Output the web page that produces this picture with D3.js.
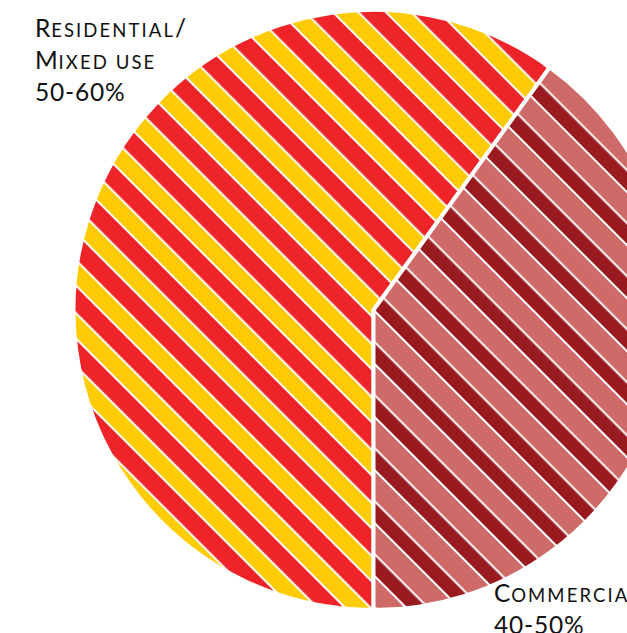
<!DOCTYPE html>
<html>
<head>
<meta charset="utf-8">
<script src="https://cdn.jsdelivr.net/npm/d3@7"></script>
<style>
  html, body { margin: 0; padding: 0; background: #fff; overflow: hidden; }
  svg { display: block; }
</style>
</head>
<body>
<svg id="chart" width="627" height="633"></svg>
<script>
// ---- data ----
const categories = ["Residential/Mixed use", "Commercial"];
const values = [60, 40];
const labelLines = [
  ["Residential/", "Mixed use", "50-60%"],
  ["Commercial", "40-50%"]
];

// ---- style ----
const W = 627, H = 633;
const cx = 373.5, cy = 310, R = 300;
const stripePeriod = 37.5;
const stripeStyles = [
  { a: "#FFCB05", b: "#EE2428", off: 24.5, aw: 18 },   // residential: yellow / red
  { a: "#991B1F", b: "#CE6A68", off: 30.2, aw: 15.5 }  // commercial: dark red / pink
];
const labelPos = [
  { x: 35, y: 37 },
  { x: 494, y: 602 }
];
const lineH = 32.2;
const bigSize = 24.5, smallSize = 18.5;

const svg = d3.select("#chart");
const defs = svg.append("defs");

stripeStyles.forEach((s, i) => {
  const p = defs.append("pattern")
    .attr("id", "stripe" + i)
    .attr("patternUnits", "userSpaceOnUse")
    .attr("x", s.off).attr("y", 0)
    .attr("width", stripePeriod).attr("height", 20)
    .attr("patternTransform", `translate(${cx},${cy}) rotate(-45)`);
  p.append("rect").attr("x", 0).attr("y", 0).attr("width", s.aw).attr("height", 20).attr("fill", s.a);
  p.append("rect").attr("x", s.aw).attr("y", 0).attr("width", stripePeriod - s.aw).attr("height", 20).attr("fill", s.b);
  p.append("rect").attr("x", -1).attr("y", 0).attr("width", 2).attr("height", 20).attr("fill", "#fff");
  p.append("rect").attr("x", stripePeriod - 1).attr("y", 0).attr("width", 2).attr("height", 20).attr("fill", "#fff");
  p.append("rect").attr("x", s.aw - 1).attr("y", 0).attr("width", 2).attr("height", 20).attr("fill", "#fff");
});

const pie = d3.pie().sort(null).startAngle(Math.PI).endAngle(3 * Math.PI);
const arc = d3.arc().innerRadius(0).outerRadius(R);
const arcs = pie(values);

const g = svg.append("g").attr("transform", `translate(${cx},${cy})`);
g.selectAll("path.slice")
  .data(arcs)
  .join("path")
  .attr("class", "slice")
  .attr("d", arc)
  .attr("fill", (d, i) => `url(#stripe${i})`)
  .attr("stroke", "#fff")
  .attr("stroke-width", 4)
  .attr("stroke-linejoin", "miter");

// small-caps labels
function addSmallCaps(textSel, str) {
  const parts = [];
  for (const ch of str) {
    const isLower = ch !== ch.toUpperCase();
    const small = isLower || ch === " ";
    const size = small ? smallSize : bigSize;
    const c = ch.toUpperCase();
    if (parts.length && parts[parts.length - 1].size === size) parts[parts.length - 1].t += c;
    else parts.push({ t: c, size, small });
  }
  parts.forEach(pt => textSel.append("tspan")
    .attr("font-size", pt.size)
    .attr("letter-spacing", pt.small ? 2.1 : 0.8)
    .text(pt.t));
}

labelLines.forEach((lines, i) => {
  const t = svg.append("text")
    .attr("class", "label")
    .attr("font-family", "Lato, 'Open Sans', sans-serif")
    .attr("fill", "#111");
  lines.forEach((ln, j) => {
    const lt = t.append("tspan").attr("x", labelPos[i].x).attr("y", labelPos[i].y + j * lineH);
    addSmallCaps(lt, ln);
  });
});
</script>
</body>
</html>
